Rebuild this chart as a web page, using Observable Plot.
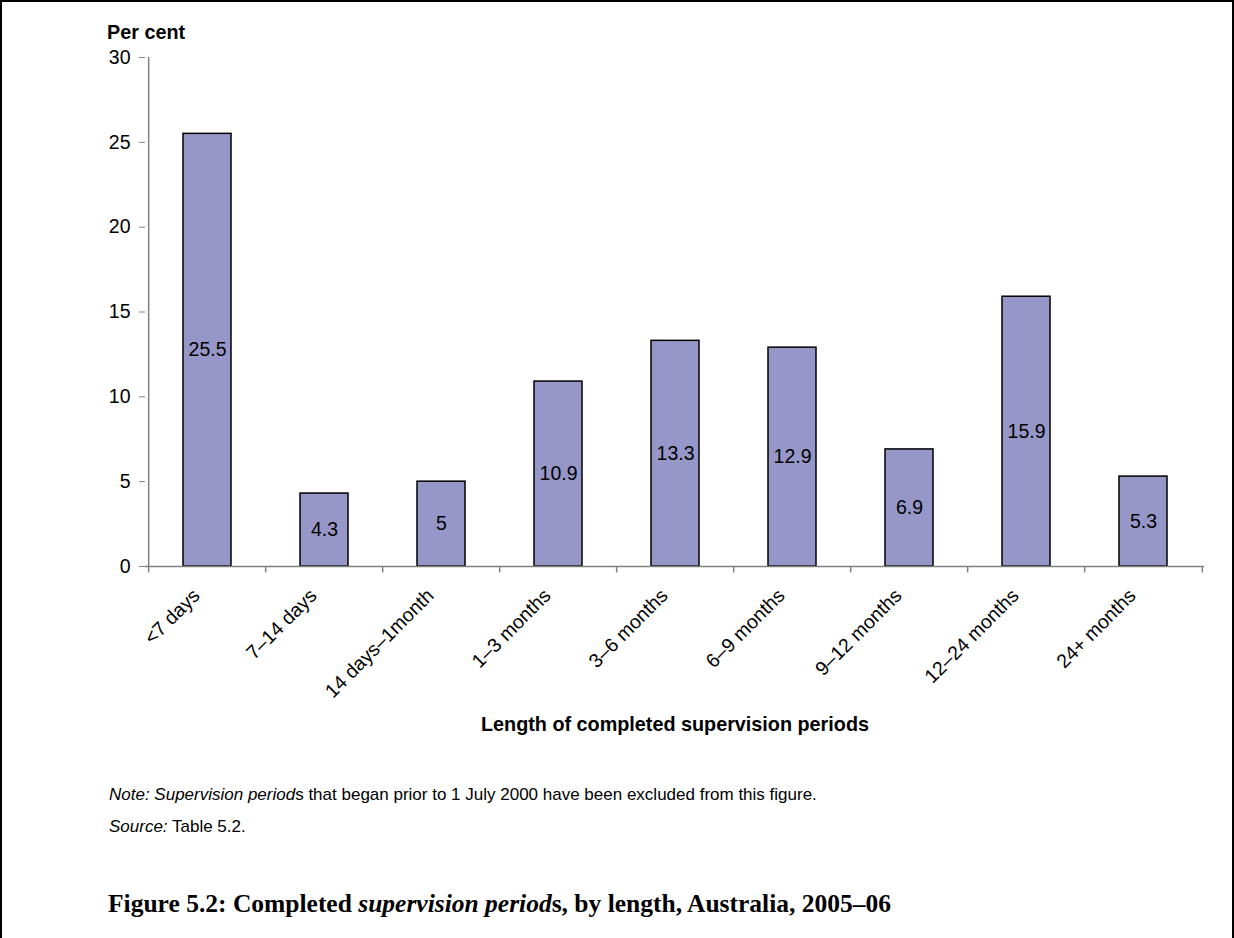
<!DOCTYPE html>
<html>
<head>
<meta charset="utf-8">
<script src="https://cdn.jsdelivr.net/npm/d3@7"></script>
<script src="https://cdn.jsdelivr.net/npm/@observablehq/plot@0.6"></script>
<style>
  html, body { margin: 0; padding: 0; background: #fff; }
  #page { position: relative; width: 1234px; height: 938px; overflow: hidden; font-family: "Liberation Sans", Arial, sans-serif; color: #000; }
  #frame { position: absolute; left: 0; top: 0; width: 1230px; height: 940px; border: 2px solid #000; }
  #chart { position: absolute; left: 0; top: 0; }
  .abs { position: absolute; white-space: nowrap; }
  #ylab { left: 107px; top: 21px; font-weight: bold; font-size: 19.8px; }
  #xlab { left: 0; width: 1350px; text-align: center; top: 713px; font-weight: bold; font-size: 19.8px; }
  #note { left: 109px; top: 785px; font-size: 17px; }
  #source { left: 109px; top: 817px; font-size: 17px; }
  #title { left: 108px; top: 889px; font-family: "Liberation Serif", serif; font-weight: bold; font-size: 25.5px; }
</style>
</head>
<body>
<div id="page">
  <div id="chart"></div>
  <div id="frame"></div>
  <div class="abs" id="ylab">Per cent</div>
  <div class="abs" id="xlab">Length of completed supervision periods</div>
  <div class="abs" id="note"><i>Note: Supervision period</i>s that began prior to 1 July 2000 have been excluded from this figure.</div>
  <div class="abs" id="source"><i>Source:</i> Table 5.2.</div>
  <div class="abs" id="title">Figure 5.2: Completed <i>supervision period</i>s, by length, Australia, 2005–06</div>
</div>
<script>
const categories = ["<7 days", "7–14 days", "14 days–1month", "1–3 months", "3–6 months", "6–9 months", "9–12 months", "12–24 months", "24+ months"];
const values = [25.5, 4.3, 5, 10.9, 13.3, 12.9, 6.9, 15.9, 5.3];
const yTicks = [0, 5, 10, 15, 20, 25, 30];

const data = categories.map((c, i) => ({cat: c, value: values[i]}));

const W = 1234, H = 710;
const mL = 145, mR = 30, mT = 57, mB = H - 566;
const step = (W - mL - mR) / categories.length;
const gray = "#808080";

const chart = Plot.plot({
  width: W,
  height: H,
  marginLeft: mL,
  marginRight: mR,
  marginTop: mT,
  marginBottom: mB,
  style: {fontFamily: "Liberation Sans, Arial, sans-serif", color: "#000", background: "transparent", overflow: "visible"},
  x: {domain: categories, paddingInner: 0.59, paddingOuter: 0.295, label: null},
  y: {domain: [0, 30], label: null},
  marks: [
    Plot.barY(data, {x: "cat", y: "value", fill: "#9696C8", stroke: "#000", strokeWidth: 1.5}),
    Plot.ruleY([0], {stroke: gray, strokeWidth: 1.5}),
    Plot.ruleX([categories[0]], {dx: -step / 2, y1: 0, y2: 30, stroke: gray, strokeWidth: 1.5}),
    Plot.ruleX(categories, {x: d => d, dx: -step / 2, y1: 0, y2: -0.38, stroke: gray, strokeWidth: 1.5}),
    Plot.ruleX([categories[categories.length - 1]], {dx: step / 2, y1: 0, y2: -0.38, stroke: gray, strokeWidth: 1.5}),
    Plot.text(data, {x: "cat", y: d => d.value / 2, text: d => String(d.value), fontSize: 19.5, fill: "#000"}),
    Plot.axisY({ticks: yTicks, tickSize: 6, tickPadding: 9, fontSize: 19.5, stroke: gray, fill: "#000", label: null, tickFormat: d => String(d)}),
    Plot.axisX({tickSize: 0, tickRotate: -45, tickPadding: 26, dx: -11, fontSize: 19.5, fill: "#000", label: null})
  ]
});
document.getElementById("chart").appendChild(chart);
</script>
</body>
</html>
